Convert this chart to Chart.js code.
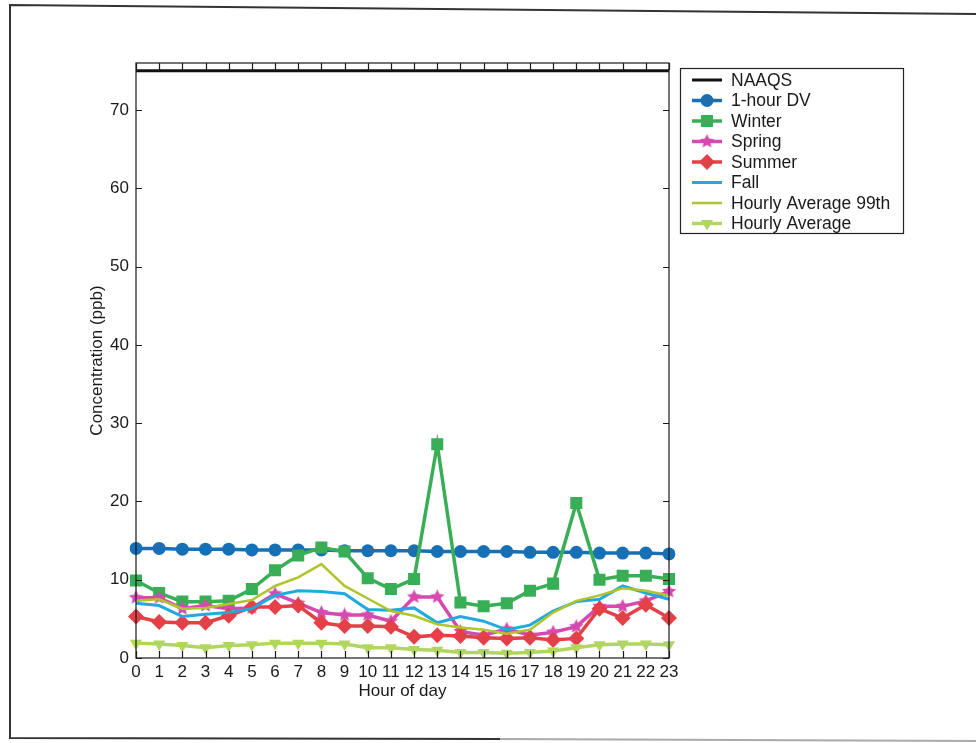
<!DOCTYPE html>
<html>
<head>
<meta charset="utf-8">
<script src="https://cdn.jsdelivr.net/npm/chart.js@4/dist/chart.umd.min.js"></script>
<style>
  html, body { margin: 0; padding: 0; background: #fff; }
  #wrap { width: 976px; height: 743px; position: relative; }
</style>
</head>
<body>
<div id="wrap"><canvas id="chartMain" width="976" height="743"></canvas></div>
<script>
// Hour of day categories
const hours = ['0','1','2','3','4','5','6','7','8','9','10','11','12','13','14','15','16','17','18','19','20','21','22','23'];
const yTicks = [0, 10, 20, 30, 40, 50, 60, 70];

// Values (ppb)
const naaqs = [75,75,75,75,75,75,75,75,75,75,75,75,75,75,75,75,75,75,75,75,75,75,75,75];
const oneHourDV = [14.0,14.0,13.9,13.9,13.9,13.8,13.8,13.8,13.8,13.7,13.7,13.7,13.7,13.6,13.6,13.6,13.6,13.5,13.5,13.5,13.4,13.4,13.4,13.3];
const winter = [9.9,8.3,7.2,7.2,7.3,8.8,11.2,13.1,14.1,13.6,10.2,8.8,10.1,27.3,7.1,6.6,7.0,8.6,9.5,19.8,10.0,10.5,10.5,10.1];
const spring = [7.7,7.7,6.3,6.7,6.3,6.4,8.2,7.0,5.8,5.5,5.5,4.7,7.8,7.8,3.4,2.9,3.7,2.9,3.3,4.0,6.6,6.6,7.3,8.5];
const summer = [5.3,4.6,4.5,4.5,5.4,6.5,6.5,6.7,4.5,4.1,4.1,4.0,2.7,2.9,2.8,2.6,2.5,2.6,2.3,2.5,6.3,5.1,6.8,5.1];
const fall = [7.0,6.7,5.3,5.6,5.8,6.3,8.0,8.6,8.5,8.2,6.2,6.1,6.4,4.5,5.3,4.7,3.6,4.2,6.0,7.2,7.5,9.2,8.3,7.5];
const hourly99 = [7.3,7.5,6.3,6.4,6.9,7.4,9.2,10.3,12.0,9.2,7.6,6.0,5.4,4.3,3.9,3.6,3.1,3.6,5.8,7.3,8.0,8.9,8.6,8.0];
const hourlyAvg = [1.9,1.8,1.6,1.3,1.6,1.7,1.9,1.9,1.9,1.8,1.3,1.3,1.1,1.0,0.7,0.7,0.6,0.7,0.9,1.3,1.7,1.8,1.8,1.7];

const FONT = '"Liberation Sans", Arial, sans-serif';
const INK = '#1a1a1a';

// filled star marker for Spring
function makeStar(color, size) {
  const c = document.createElement('canvas');
  c.width = size; c.height = size;
  const g = c.getContext('2d');
  const cx = size / 2, cy = size / 2, ro = size / 2, ri = size / 4.2;
  g.beginPath();
  for (let i = 0; i < 10; i++) {
    const r = i % 2 === 0 ? ro : ri;
    const a = -Math.PI / 2 + i * Math.PI / 5;
    const px = cx + r * Math.cos(a), py = cy + r * Math.sin(a);
    if (i === 0) g.moveTo(px, py); else g.lineTo(px, py);
  }
  g.closePath();
  g.fillStyle = color;
  g.fill();
  return c;
}

const cBlue = 'rgb(22,112,182)';
const cGreen = 'rgb(56,174,86)';
const cPink = 'rgb(214,74,176)';
const cRed = 'rgb(228,64,72)';
const cCyan = 'rgb(32,170,222)';
const cOlive = 'rgb(178,196,44)';
const cLight = 'rgb(176,214,96)';
const starImg = makeStar(cPink, 15);

function series(label, data, color, extra) {
  return Object.assign({
    label: label,
    data: data,
    borderColor: color,
    backgroundColor: color,
    pointBackgroundColor: color,
    pointBorderColor: color,
    borderWidth: 3.5,
    pointRadius: 0,
    pointBorderWidth: 0,
    tension: 0,
    fill: false
  }, extra || {});
}

const datasets = [
  series('NAAQS', naaqs, '#111', { borderWidth: 3 }),
  series('1-hour DV', oneHourDV, cBlue, { pointStyle: 'circle', pointRadius: 6.5 }),
  series('Winter', winter, cGreen, { pointStyle: 'rect', pointRadius: 8.5 }),
  series('Spring', spring, cPink, { pointStyle: starImg, pointRadius: 7 }),
  series('Summer', summer, cRed, { pointStyle: 'rectRot', pointRadius: 8 }),
  series('Fall', fall, cCyan, { borderWidth: 3 }),
  series('Hourly Average 99th', hourly99, cOlive, { borderWidth: 2.5 }),
  series('Hourly Average', hourlyAvg, cLight, { pointStyle: 'triangle', pointRotation: 180, pointRadius: 7 })
];
// later series painted on top, like the original
datasets.forEach((d, i) => { d.order = datasets.length - i; });

// page frame, plot box, inward ticks, legend
const decorPlugin = {
  id: 'decor',
  beforeDraw(chart) {
    const ctx = chart.ctx;
    ctx.save();
    ctx.fillStyle = '#fff';
    ctx.fillRect(0, 0, chart.width, chart.height);
    ctx.strokeStyle = '#333';
    ctx.lineWidth = 2;
    ctx.beginPath();
    ctx.moveTo(976, 14); ctx.lineTo(10, 5); ctx.lineTo(10, 738); ctx.lineTo(500, 739);
    ctx.stroke();
    ctx.strokeStyle = '#aaa';
    ctx.beginPath();
    ctx.moveTo(500, 739); ctx.lineTo(976, 741);
    ctx.stroke();
    ctx.restore();
  },
  afterDraw(chart) {
    const ctx = chart.ctx;
    const a = chart.chartArea;
    const xs = chart.scales.x, ys = chart.scales.y;
    ctx.save();
    ctx.strokeStyle = INK;
    ctx.lineWidth = 1.2;
    ctx.strokeRect(a.left, a.top, a.right - a.left, a.bottom - a.top);
    ctx.beginPath();
    hours.forEach((h, i) => {
      const px = Math.round(xs.getPixelForValue(i)) + 0.5;
      ctx.moveTo(px, a.bottom); ctx.lineTo(px, a.bottom - 7);
      ctx.moveTo(px, a.top); ctx.lineTo(px, a.top + 7);
    });
    yTicks.forEach(v => {
      const py = Math.round(ys.getPixelForValue(v)) + 0.5;
      ctx.moveTo(a.left, py); ctx.lineTo(a.left + 6, py);
      ctx.moveTo(a.right, py); ctx.lineTo(a.right - 6, py);
    });
    ctx.stroke();

    // legend
    const lx = 680, ly = 68, lw = 223, lh = 165;
    ctx.fillStyle = '#fff';
    ctx.fillRect(lx, ly, lw, lh);
    ctx.strokeStyle = '#222';
    ctx.lineWidth = 1.2;
    ctx.strokeRect(lx + 0.5, ly + 0.5, lw, lh);
    ctx.font = '17.5px ' + FONT;
    ctx.textBaseline = 'middle';
    chart.data.datasets.forEach((d, i) => {
      const y = ly + 12 + i * 20.5;
      ctx.strokeStyle = d.borderColor;
      ctx.lineWidth = d.borderWidth;
      ctx.beginPath();
      ctx.moveTo(692, y); ctx.lineTo(722, y);
      ctx.stroke();
      if (d.pointRadius > 0) {
        ctx.fillStyle = d.pointBackgroundColor;
        ctx.strokeStyle = d.pointBorderColor;
        Chart.helpers.drawPoint(ctx, {
          pointStyle: d.pointStyle,
          radius: d.pointRadius,
          rotation: d.pointRotation || 0,
          borderWidth: 0
        }, 707, y);
      }
      ctx.fillStyle = INK;
      ctx.fillText(d.label, 731, y + 1);
    });
    ctx.restore();
  }
};

const ctx = document.getElementById('chartMain').getContext('2d');
window.chart = new Chart(ctx, {
  type: 'line',
  data: { labels: hours, datasets: datasets },
  plugins: [decorPlugin],
  options: {
    responsive: false,
    animation: false,
    events: [],
    layout: { padding: { left: 0, top: 63, right: 307, bottom: 0 } },
    plugins: { legend: { display: false }, tooltip: { enabled: false } },
    scales: {
      x: {
        type: 'category',
        offset: false,
        grid: { display: false, drawTicks: false },
        border: { display: false },
        ticks: { color: INK, font: { family: FONT, size: 17 }, padding: 4, maxRotation: 0, autoSkip: false },
        title: { display: true, text: 'Hour of day', color: INK, font: { family: FONT, size: 17 }, padding: { top: 0, bottom: 41 } },
        afterFit(s) { s.height = 85; }
      },
      y: {
        min: 0,
        max: 76,
        grid: { display: false, drawTicks: false },
        border: { display: false },
        ticks: { stepSize: 10, includeBounds: false, color: INK, font: { family: FONT, size: 17 }, padding: 7 },
        title: { display: true, text: 'Concentration (ppb)', color: INK, font: { family: FONT, size: 17 }, padding: { top: 87, bottom: 0 } },
        afterFit(s) { s.width = 136; }
      }
    }
  }
});
</script>
</body>
</html>
